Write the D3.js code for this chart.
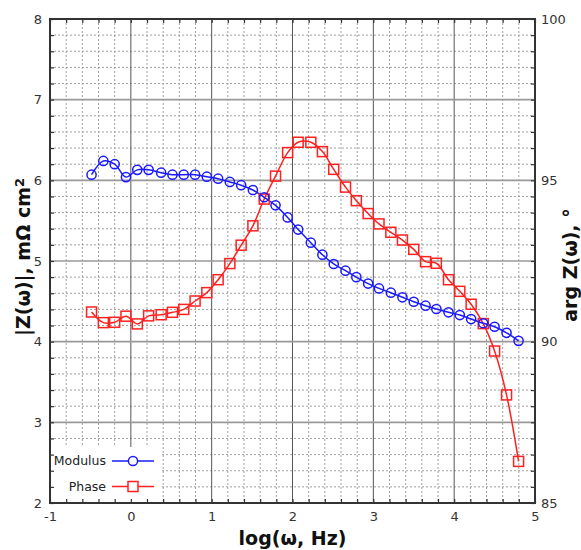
<!DOCTYPE html>
<html>
<head>
<meta charset="utf-8">
<script src="https://cdn.jsdelivr.net/npm/d3@7"></script>
<style>
  html, body { margin: 0; padding: 0; background: #fff; }
  svg { display: block; }
  text { font-family: "DejaVu Sans", Verdana, sans-serif; }
</style>
</head>
<body>
<svg id="chart" width="581" height="550"></svg>
<script>
// ---- data ----
const logFreq = [-0.486, -0.34, -0.20, -0.06, 0.08, 0.22, 0.375, 0.515, 0.655, 0.795,
  0.94, 1.08, 1.225, 1.365, 1.51, 1.65, 1.79, 1.94, 2.07, 2.227,
  2.37, 2.51, 2.656, 2.79, 2.936, 3.07, 3.217, 3.36, 3.50, 3.646,
  3.78, 3.93, 4.07, 4.21, 4.36, 4.50, 4.648, 4.797];
const modulus = [6.07, 6.24, 6.20, 6.04, 6.13, 6.13, 6.095, 6.07, 6.07, 6.07,
  6.045, 6.02, 5.98, 5.94, 5.88, 5.79, 5.69, 5.54, 5.39, 5.227,
  5.078, 4.963, 4.88, 4.80, 4.72, 4.66, 4.607, 4.55, 4.495, 4.446,
  4.405, 4.364, 4.33, 4.28, 4.228, 4.185, 4.11, 4.01];
const phase = [90.92, 90.59, 90.60, 90.79, 90.55, 90.80, 90.835, 90.91, 91.00, 91.26,
  91.52, 91.92, 92.42, 92.99, 93.59, 94.42, 95.13, 95.86, 96.18, 96.18,
  95.89, 95.34, 94.79, 94.37, 93.97, 93.65, 93.39, 93.15, 92.86, 92.48,
  92.43, 91.92, 91.56, 91.16, 90.56, 89.71, 88.35, 86.29];
const xTicks = [-1, 0, 1, 2, 3, 4, 5];
const yLeftTicks = [2, 3, 4, 5, 6, 7, 8];
const yRightTicks = [85, 90, 95, 100];
const legendLabels = ["Modulus", "Phase"];

// ---- layout ----
const L = 50, R = 535, T = 19, B = 503;
const svg = d3.select("#chart");
const x = d3.scaleLinear().domain([-1, 5]).range([L, R]);
const yL = d3.scaleLinear().domain([2, 8]).range([B, T]);
const yR = d3.scaleLinear().domain([85, 100]).range([B, T]);

const xMinor = d3.range(-1, 5.0001, 0.2).map(v => +v.toFixed(2));
const yMinor = d3.range(2, 8.0001, 0.2).map(v => +v.toFixed(2));

// minor grid (dotted)
const g = svg.append("g");
g.selectAll(".vx").data(xMinor.filter(v => Math.abs(v - Math.round(v)) > 1e-6)).enter()
  .append("line").attr("x1", d => x(d)).attr("x2", d => x(d)).attr("y1", T).attr("y2", B)
  .attr("stroke", "#a0a0a0").attr("stroke-width", 1).attr("stroke-dasharray", "2,2");
g.selectAll(".hy").data(yMinor.filter(v => Math.abs(v - Math.round(v)) > 1e-6)).enter()
  .append("line").attr("y1", d => yL(d)).attr("y2", d => yL(d)).attr("x1", L).attr("x2", R)
  .attr("stroke", "#a0a0a0").attr("stroke-width", 1).attr("stroke-dasharray", "2,2");
// major grid
g.selectAll(".mx").data(xTicks.slice(1, -1)).enter()
  .append("line").attr("x1", d => x(d)).attr("x2", d => x(d)).attr("y1", T).attr("y2", B)
  .attr("stroke", "#555").attr("stroke-width", 1);
g.selectAll(".my").data(yLeftTicks.slice(1, -1)).enter()
  .append("line").attr("y1", d => yL(d)).attr("y2", d => yL(d)).attr("x1", L).attr("x2", R)
  .attr("stroke", "#999").attr("stroke-width", 1.6);

// legend background (covers grid)
svg.append("rect").attr("x", L + 1).attr("y", 447).attr("width", 110).attr("height", B - 447)
  .attr("fill", "#fff");

// axes with inward minor ticks
function tickAxis(axis, transform) {
  const a = svg.append("g").attr("transform", transform).call(axis);
  a.select(".domain").remove();
  a.selectAll("line").attr("stroke", "#333").attr("stroke-width", 1.2);
  return a;
}
tickAxis(d3.axisBottom(x).tickValues(xMinor).tickSize(-4).tickFormat(""), `translate(0,${B})`);
tickAxis(d3.axisTop(x).tickValues(xMinor).tickSize(-4).tickFormat(""), `translate(0,${T})`);
tickAxis(d3.axisLeft(yL).tickValues(yMinor).tickSize(-4).tickFormat(""), `translate(${L},0)`);
tickAxis(d3.axisRight(yL).tickValues(yMinor).tickSize(-4).tickFormat(""), `translate(${R},0)`);

// labeled axes
function labelAxis(axis, transform) {
  const a = svg.append("g").attr("transform", transform).call(axis);
  a.select(".domain").remove();
  a.selectAll("line").remove();
  a.selectAll("text").attr("fill", "#333").style("font-size", "13px")
    .style("font-family", "'DejaVu Sans', Verdana, sans-serif");
  return a;
}
const fmt = d3.format("d");
labelAxis(d3.axisBottom(x).tickValues(xTicks).tickSize(0).tickPadding(9)
  .tickFormat(d => d < 0 ? "-" + Math.abs(d) : fmt(d)), `translate(0,${B})`);
labelAxis(d3.axisLeft(yL).tickValues(yLeftTicks).tickSize(0).tickPadding(8).tickFormat(fmt), `translate(${L},0)`);
labelAxis(d3.axisRight(yR).tickValues(yRightTicks).tickSize(0).tickPadding(6).tickFormat(fmt), `translate(${R},0)`);

// frame
svg.append("rect").attr("x", L).attr("y", T).attr("width", R - L).attr("height", B - T)
  .attr("fill", "none").attr("stroke", "#333").attr("stroke-width", 2);

// series
const modData = logFreq.map((v, i) => [v, modulus[i]]);
const phData = logFreq.map((v, i) => [v, phase[i]]);
const lineL = d3.line().x(d => x(d[0])).y(d => yL(d[1])).curve(d3.curveCatmullRom.alpha(0.5));
const lineR = d3.line().x(d => x(d[0])).y(d => yR(d[1])).curve(d3.curveCatmullRom.alpha(0.5));
const blue = "#1a1aff", red = "#ff2020";

svg.append("path").attr("d", lineR(phData)).attr("fill", "none").attr("stroke", red).attr("stroke-width", 1.5);
svg.append("path").attr("d", lineL(modData)).attr("fill", "none").attr("stroke", blue).attr("stroke-width", 1.5);

svg.selectAll(".sq").data(phData).enter().append("rect")
  .attr("x", d => x(d[0]) - 5).attr("y", d => yR(d[1]) - 5)
  .attr("width", 10).attr("height", 10)
  .attr("fill", "none").attr("stroke", red).attr("stroke-width", 1.5);
svg.selectAll(".ci").data(modData).enter().append("circle")
  .attr("cx", d => x(d[0])).attr("cy", d => yL(d[1])).attr("r", 4.6)
  .attr("fill", "none").attr("stroke", blue).attr("stroke-width", 1.5);

// legend
const leg = svg.append("g");
const legY = [461, 486.5];
legendLabels.forEach((lab, i) => {
  const col = i === 0 ? blue : red;
  leg.append("text").attr("x", 106).attr("y", legY[i]).attr("dy", "0.35em")
    .attr("text-anchor", "end").style("font-size", "12.5px").attr("fill", "#222").text(lab);
  leg.append("line").attr("x1", 112).attr("x2", 154).attr("y1", legY[i]).attr("y2", legY[i])
    .attr("stroke", col).attr("stroke-width", 1.5);
  if (i === 0) {
    leg.append("circle").attr("cx", 133).attr("cy", legY[i]).attr("r", 4.6)
      .attr("fill", "#fff").attr("stroke", col).attr("stroke-width", 1.5);
  } else {
    leg.append("rect").attr("x", 128).attr("y", legY[i] - 5).attr("width", 10).attr("height", 10)
      .attr("fill", "#fff").attr("stroke", col).attr("stroke-width", 1.5);
  }
});

// axis titles
svg.append("text").attr("x", (L + R) / 2).attr("y", 545).attr("text-anchor", "middle")
  .style("font-size", "19px").style("font-weight", "bold").attr("fill", "#111").text("log(ω, Hz)");
const lt = svg.append("text").attr("transform", `translate(30,${(T + B) / 2 - 4}) rotate(-90)`)
  .attr("text-anchor", "middle").style("font-size", "19px").style("font-weight", "bold").attr("fill", "#111");
lt.append("tspan").text("|Z(ω)|, mΩ cm");
lt.append("tspan").attr("dy", "-0.45em").style("font-size", "13px").text("2");
svg.append("text").attr("transform", `translate(577,${(T + B) / 2 + 4}) rotate(-90)`)
  .attr("text-anchor", "middle").style("font-size", "19px").style("font-weight", "bold").attr("fill", "#111")
  .text("arg Z(ω), °");
</script>
</body>
</html>
